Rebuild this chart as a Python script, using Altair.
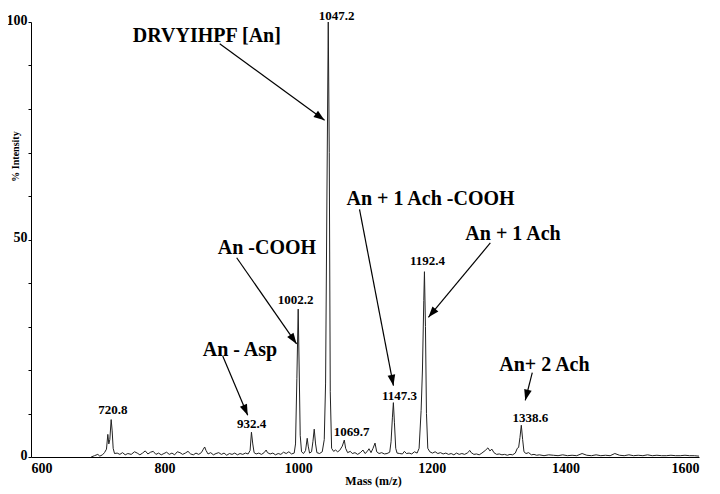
import math
import altair as alt
import pandas as pd

# ---- spectrum (m/z, % intensity) ----
mass = [690, 695, 700, 703, 707, 710, 713, 715, 716.5, 718, 720, 721.5, 723, 725,
        729, 733, 737, 741, 745, 750, 755, 759, 763, 767, 771, 775, 779, 783, 787,
        791, 795, 799, 803, 807, 811, 815, 819, 823, 827, 831, 835, 839, 843, 847,
        851, 855, 858, 860, 862, 865, 869, 873, 877, 881, 885, 889, 893, 897, 901,
        905, 909, 913, 917, 921, 925, 928, 930, 932, 934, 937, 941, 945, 949, 952,
        954, 958, 962, 966, 970, 974, 978, 982, 986, 990, 994, 996, 998, 1000,
        1001.5, 1003, 1005, 1008, 1011, 1013.5, 1015, 1017, 1020, 1022, 1024, 1026,
        1028, 1032, 1036, 1039, 1041, 1043, 1045, 1046.5, 1048, 1050, 1053, 1056,
        1059, 1062, 1066, 1069, 1071, 1074, 1078, 1081, 1085, 1089, 1093, 1097,
        1100, 1103, 1106, 1109, 1112, 1115, 1117.5, 1121, 1125, 1129, 1133, 1137,
        1139, 1141, 1142.5, 1144, 1146, 1148, 1152, 1156, 1159, 1162, 1166, 1170,
        1174, 1178, 1181, 1184, 1186, 1188, 1189, 1190.5, 1192, 1194, 1197, 1201,
        1205, 1209, 1213, 1217, 1221, 1225, 1229, 1233, 1237, 1241, 1245, 1249,
        1253, 1257, 1259, 1263, 1267, 1271, 1275, 1280, 1284, 1287, 1290, 1293,
        1297, 1301, 1305, 1309, 1313, 1317, 1321, 1325, 1328, 1330, 1332, 1334,
        1336, 1338, 1341, 1345, 1349, 1353, 1357, 1361, 1368, 1375, 1382, 1389,
        1396, 1403, 1410, 1417, 1425, 1432, 1439, 1446, 1453, 1460, 1467, 1474,
        1481, 1488, 1495, 1502, 1509, 1516, 1523, 1530, 1537, 1544, 1551, 1558,
        1565, 1572, 1579, 1586, 1593, 1600]
intensity = [0.0, 0.3, 0.6, 0.2, 0.5, 1.0, 1.8, 5.2, 3.0, 4.0, 8.6, 6.0, 2.0, 0.8,
             0.9, 0.6, 1.0, 0.5, 0.8, 0.6, 1.2, 0.9, 0.5, 0.9, 1.4, 0.7, 1.1, 1.3, 0.6,
             0.9, 0.5, 0.8, 1.1, 0.6, 0.9, 0.5, 1.2, 1.0, 0.6, 0.9, 1.3, 0.7, 0.5, 0.9,
             0.6, 1.0, 1.8, 2.3, 1.5, 0.7, 1.0, 0.5, 0.8, 1.0, 0.6, 0.9, 0.4, 0.8, 0.6,
             0.9, 0.5, 0.8, 0.6, 0.9, 0.7, 1.5, 5.7, 3.0, 1.0, 0.7, 0.9, 0.6, 1.0, 1.6,
             1.0, 0.7, 0.9, 0.5, 0.8, 0.6, 1.1, 0.8, 1.2, 0.7, 0.9, 3.0, 18.0, 34.0,
             20.0, 5.0, 1.2, 0.8, 1.5, 4.3, 2.5, 0.9, 1.2, 3.5, 6.4, 3.0,
             1.0, 0.8, 1.2, 4.0, 17.0, 60.0, 100.0, 70.0, 15.0, 2.0, 1.3, 1.6,
             1.2, 1.5, 2.5, 3.9, 2.0, 1.0, 1.3, 0.8, 1.0, 0.6, 1.0, 1.6,
             0.8, 1.2, 1.9, 1.0, 2.0, 3.2, 1.2, 0.8, 1.0, 0.7, 0.8, 1.1,
             3.5, 9.0, 12.5, 8.0, 2.0, 0.9, 0.8, 0.7, 1.3, 0.8, 0.9, 0.7,
             1.2, 0.9, 2.0, 10.7, 20.0, 36.0, 42.6, 30.0, 10.0, 2.0, 1.2, 0.9,
             1.2, 0.8, 1.0, 0.7, 0.9, 0.6, 0.8, 0.5, 0.9, 0.6, 0.8, 0.6,
             0.9, 1.5, 1.0, 0.6, 0.7, 0.5, 0.9, 1.5, 2.1, 1.4, 1.8, 1.0,
             0.6, 0.7, 0.5, 0.6, 0.4, 0.6, 0.5, 0.9, 2.0, 2.2, 4.5, 7.3,
             4.0, 1.2, 0.8, 1.0, 0.5, 0.6, 0.4, 0.5, 0.3, 0.5, 0.4, 0.3,
             0.5, 0.3, 0.4, 0.3, 0.8, 0.4, 0.3, 0.5, 0.3, 0.4, 0.3, 0.8,
             0.4, 0.3, 0.5, 0.3, 0.4, 0.3, 0.5, 0.3, 0.4, 0.3, 0.3, 0.4,
             0.3, 0.3, 0.4, 0.3, 0.3, 0.2]

# ---- peak value labels ----
peak_text = ["1047.2", "1002.2", "720.8", "932.4", "1069.7", "1147.3", "1192.4", "1338.6"]
peak_x = [1057.4, 996.1, 722.6, 930.3, 1079.8, 1151.6, 1193.4, 1347.4]
peak_y = [100.5, 35.1, 9.8, 6.6, 4.8, 13.0, 44.2, 8.0]

# ---- annotation texts (left edge, baseline) ----
ann_text = ["DRVYIHPF [An]", "An -COOH", "An - Asp", "An + 1 Ach -COOH", "An + 1 Ach", "An+ 2 Ach"]
ann_x = [752.5, 879.5, 857.1, 1072.3, 1250.2, 1301.0]
ann_y = [95.4, 46.7, 23.2, 57.9, 49.9, 19.8]

# ---- arrows (start -> tip) ----
arr_x1 = [882.5, 907.9, 887.0, 1091.8, 1287.6, 1350.4]
arr_y1 = [95.0, 45.8, 23.2, 56.9, 49.2, 19.4]
arr_x2 = [1039.5, 997.6, 924.4, 1142.6, 1194.9, 1339.9]
arr_y2 = [77.4, 26.0, 9.6, 16.4, 32.1, 13.0]

W, H = 668, 435
XMIN, XMAX = 600, 1600
YMIN, YMAX = 0, 100
FONT = "Liberation Serif"

spec = pd.DataFrame({"mass": mass, "intensity": intensity})
peaks = pd.DataFrame({"t": peak_text, "x": peak_x, "y": peak_y})
anns = pd.DataFrame({"t": ann_text, "x": ann_x, "y": ann_y})

angles = []
for a, b, c, d in zip(arr_x1, arr_y1, arr_x2, arr_y2):
    dx = (c - a) * W / (XMAX - XMIN)
    dy = -(d - b) * H / (YMAX - YMIN)
    angles.append(math.degrees(math.atan2(dx, -dy)) % 360)
arrows = pd.DataFrame({"x1": arr_x1, "y1": arr_y1, "x2": arr_x2, "y2": arr_y2, "ang": angles})

xs = alt.Scale(domain=[XMIN, XMAX], nice=False, zero=False)
ys = alt.Scale(domain=[YMIN, YMAX], nice=False)

xaxis = alt.Axis(values=[600, 800, 1000, 1200, 1400, 1600], title="Mass (m/z)",
                 format="d", ticks=False, grid=False, labelFont=FONT,
                 labelFontWeight="bold", labelFontSize=14, labelColor="black",
                 labelPadding=4, domainColor="black", domainWidth=1,
                 titleFont=FONT, titleFontWeight="bold", titleFontSize=12,
                 titleColor="black", titleX=342, titleY=27,
                 titleBaseline="alphabetic", titleAnchor="start", titleAlign="center")
yaxis = alt.Axis(values=list(range(0, 101, 5)), title="% Intensity",
                 labelExpr="datum.value % 50 === 0 ? datum.label : ''",
                 ticks=True, tickSize=3, tickColor="black", grid=False,
                 labelFont=FONT, labelFontWeight="bold", labelFontSize=14,
                 labelColor="black", labelPadding=1, labelBaseline="middle",
                 labelOffset=-2, domainColor="black", domainWidth=1,
                 titleFont=FONT, titleFontWeight="bold", titleFontSize=10,
                 titleColor="black", titleX=-16, titleY=134, titleAngle=270,
                 titleBaseline="middle", titleAlign="center")

line = alt.Chart(spec).mark_line(color="#222", strokeWidth=1, clip=True).encode(
    x=alt.X("mass:Q", scale=xs, axis=xaxis),
    y=alt.Y("intensity:Q", scale=ys, axis=yaxis),
)

peak_labels = alt.Chart(peaks).mark_text(
    font=FONT, fontWeight="bold", fontSize=13, color="black",
    align="center", baseline="alphabetic"
).encode(x=alt.X("x:Q", scale=xs), y=alt.Y("y:Q", scale=ys), text="t:N")

ann_labels = alt.Chart(anns).mark_text(
    font=FONT, fontWeight="bold", fontSize=20, color="black",
    align="left", baseline="alphabetic"
).encode(x=alt.X("x:Q", scale=xs), y=alt.Y("y:Q", scale=ys), text="t:N")

shafts = alt.Chart(arrows).mark_rule(color="black", strokeWidth=1.2).encode(
    x=alt.X("x1:Q", scale=xs), y=alt.Y("y1:Q", scale=ys),
    x2="x2:Q", y2="y2:Q",
)

heads = alt.Chart(arrows).mark_point(
    shape="M0,0L0.35,1L-0.35,1Z", filled=True, color="black", opacity=1, size=480
).encode(x=alt.X("x2:Q", scale=xs), y=alt.Y("y2:Q", scale=ys),
         angle=alt.Angle("ang:Q", scale=None))

chart = alt.layer(line, shafts, heads, peak_labels, ann_labels).properties(
    width=W, height=H,
    autosize=alt.AutoSizeParams(type="none"),
    padding={"left": 23, "top": 14, "right": 5, "bottom": 33},
    background="white",
).configure_view(stroke=None)

chart.save("out.html", embed_options={"renderer": "svg", "actions": False})
